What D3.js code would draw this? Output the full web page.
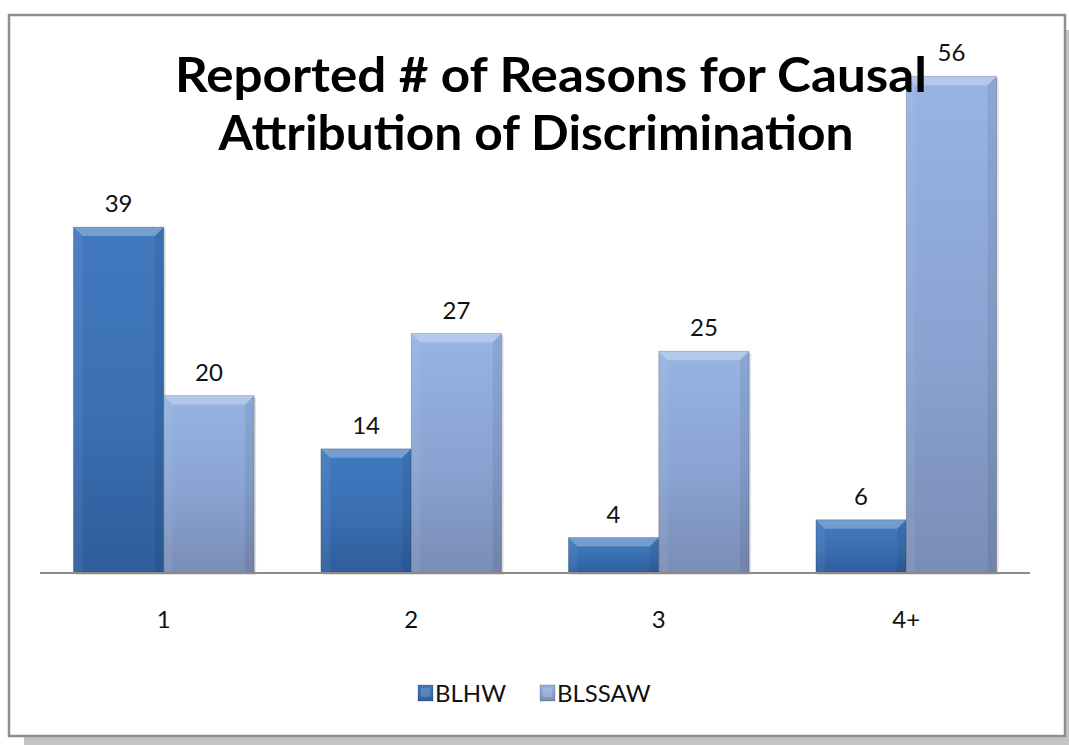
<!DOCTYPE html>
<html>
<head>
<meta charset="utf-8">
<script src="https://cdn.jsdelivr.net/npm/d3@7"></script>
<style>
  html, body { margin: 0; padding: 0; background: #fff; }
  svg { display: block; }
</style>
</head>
<body>
<svg id="chart" width="1069" height="745"></svg>
<script>
// Data
const categories = ["1", "2", "3", "4+"];
const seriesNames = ["BLHW", "BLSSAW"];
const blhw = [39, 14, 4, 6];
const blssaw = [20, 27, 25, 56];
const titleLines = ["Reported # of Reasons for Causal", "Attribution of Discrimination"];

const W = 1069, H = 745;
const svg = d3.select("#chart");
const font = "Lato, 'Open Sans', sans-serif";

// Frame with drop shadow
svg.append("rect").attr("x", 24).attr("y", 30).attr("width", W - 24).attr("height", H - 30).attr("fill", "#c4c4c4");
svg.append("rect").attr("x", 9).attr("y", 15).attr("width", 1056).attr("height", 721)
  .attr("fill", "#fff").attr("stroke", "#8f8f8f").attr("stroke-width", 2.5);

// Gradients
const defs = svg.append("defs");
const gradSpecs = [
  { id: "g0", stops: [["0%", "#4279bf"], ["55%", "#3a6fb2"], ["100%", "#2e5d9c"]] },
  { id: "g1", stops: [["0%", "#97b4e4"], ["55%", "#89a3d2"], ["100%", "#7a8db5"]] }
];
gradSpecs.forEach(g => {
  const lg = defs.append("linearGradient").attr("id", g.id).attr("x1", 0).attr("y1", 0).attr("x2", 0).attr("y2", 1);
  g.stops.forEach(s => lg.append("stop").attr("offset", s[0]).attr("stop-color", s[1]));
});

// Scales
const baseY = 573;
const x0 = d3.scaleBand().domain(categories).range([40, 1030]).paddingInner(0.27).paddingOuter(0.135);
const x1 = d3.scaleBand().domain(seriesNames).range([0, x0.bandwidth()]);
const y = d3.scaleLinear().domain([0, 60]).range([baseY, baseY - 60 * 8.87]);

const rows = categories.map((c, i) => ({ cat: c, vals: [blhw[i], blssaw[i]] }));

// Bars with bevelled edges
const groups = svg.append("g").selectAll("g").data(rows).join("g")
  .attr("transform", d => `translate(${x0(d.cat)},0)`);

groups.each(function(d) {
  const g = d3.select(this);
  d.vals.forEach((v, si) => {
    const bx = x1(seriesNames[si]);
    const bw = x1.bandwidth();
    const by = y(v);
    const bh = baseY - by;
    const b = Math.min(9, bh / 2, bw / 4);
    const bar = g.append("g");
    bar.append("rect").attr("x", bx + 2).attr("y", by + 2).attr("width", bw).attr("height", bh)
      .attr("fill", "#000").attr("opacity", 0.12);
    bar.append("rect").attr("x", bx).attr("y", by).attr("width", bw).attr("height", bh)
      .attr("fill", `url(#g${si})`);
    // top bevel (highlight)
    bar.append("path").attr("d", `M${bx},${by}L${bx + bw},${by}L${bx + bw - b},${by + b}L${bx + b},${by + b}Z`)
      .attr("fill", "#fff").attr("opacity", 0.28);
    // left bevel
    bar.append("path").attr("d", `M${bx},${by}L${bx + b},${by + b}L${bx + b},${baseY}L${bx},${baseY}Z`)
      .attr("fill", "#fff").attr("opacity", 0.06);
    // right bevel (shade)
    bar.append("path").attr("d", `M${bx + bw},${by}L${bx + bw - b},${by + b}L${bx + bw - b},${baseY}L${bx + bw},${baseY}Z`)
      .attr("fill", "#000").attr("opacity", 0.07);
    bar.append("rect").attr("x", bx).attr("y", by).attr("width", bw).attr("height", bh)
      .attr("fill", "none").attr("stroke", "#000").attr("stroke-opacity", 0.18).attr("stroke-width", 1);
    // value label
    g.append("text").attr("x", bx + bw / 2).attr("y", by - 15)
      .attr("text-anchor", "middle").attr("font-family", font).attr("font-size", 24).attr("fill", "#111")
      .text(v);
  });
});

// Category axis
const xAxis = svg.append("g").attr("transform", `translate(0,${baseY})`)
  .call(d3.axisBottom(x0).tickSize(0).tickPadding(38));
xAxis.select(".domain").remove();
xAxis.append("line").attr("x1", 40).attr("x2", 1030).attr("y1", 0).attr("y2", 0)
  .attr("stroke", "#8c8c8c").attr("stroke-width", 2);
xAxis.selectAll(".tick text").attr("font-family", font).attr("font-size", 24).attr("fill", "#111");

// Title
const title = svg.append("g");
title.append("text").attr("x", 551).attr("y", 92).attr("text-anchor", "middle")
  .attr("font-family", font).attr("font-weight", "bold").attr("font-size", 47).attr("fill", "#000")
  .attr("textLength", 752).attr("lengthAdjust", "spacingAndGlyphs").text(titleLines[0]);
title.append("text").attr("x", 536).attr("y", 150).attr("text-anchor", "middle")
  .attr("font-family", font).attr("font-weight", "bold").attr("font-size", 47).attr("fill", "#000")
  .attr("textLength", 635).attr("lengthAdjust", "spacingAndGlyphs").text(titleLines[1]);

// Legend
const legend = svg.append("g").attr("transform", "translate(418,693)");
const legX = [0, 122];
seriesNames.forEach((n, i) => {
  const lg = legend.append("g").attr("transform", `translate(${legX[i]},0)`);
  lg.append("rect").attr("x", 0).attr("y", -8).attr("width", 15).attr("height", 16)
    .attr("fill", `url(#g${i})`).attr("stroke", "#000").attr("stroke-opacity", 0.2);
  lg.append("rect").attr("x", 3).attr("y", -5).attr("width", 9).attr("height", 9)
    .attr("fill", "#fff").attr("opacity", 0.15);
  lg.append("text").attr("x", 17).attr("y", 9).attr("font-family", font).attr("font-size", 24)
    .attr("fill", "#111").text(n);
});
</script>
</body>
</html>
